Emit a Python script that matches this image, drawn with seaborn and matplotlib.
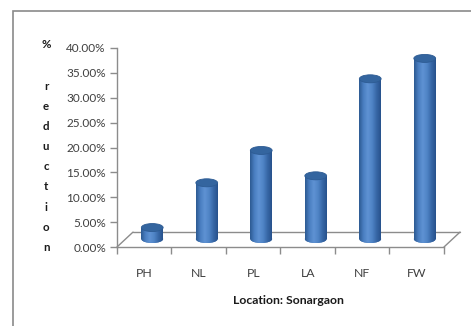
import numpy as np
import pandas as pd
import matplotlib
matplotlib.use("Agg")
import matplotlib.pyplot as plt
import matplotlib.transforms as mtransforms
from matplotlib.patches import Ellipse, Rectangle
from matplotlib.colors import LinearSegmentedColormap
import seaborn as sns

# Percent reduction by treatment, Sonargaon
locations = ["PH", "NL", "PL", "LA", "NF", "FW"]
reduction = [0.023, 0.113, 0.178, 0.127, 0.322, 0.363]
y_ticks = [0.0, 0.05, 0.10, 0.15, 0.20, 0.25, 0.30, 0.35, 0.40]
x_title = "Location: Sonargaon"
y_title = "%\n\nreduction"

sns.set_theme(style="white")
plt.rcParams["font.family"] = ["Lato", "DejaVu Sans"]

W, H, DPI = 471, 326, 100
fig = plt.figure(figsize=(W / DPI, H / DPI), dpi=DPI)

def px_rect(left, top, right, bottom):
    return [left / W, 1 - bottom / H, (right - left) / W, (bottom - top) / H]

ax = fig.add_axes(px_rect(117, 48, 460, 247))
ax.set_facecolor("none")

df = pd.DataFrame({"location": locations, "reduction": reduction})
sns.barplot(data=df, x="location", y="reduction", color="#4a7ebf",
            width=0.40, ax=ax, zorder=3, linewidth=0)

depth_x = 0.294   # floor depth in category units
depth_y = 0.030   # floor depth in value units
ax.set_xlim(-0.5, 5.5 + depth_x)
ax.set_ylim(0, 0.40)

grey = "#8c8c8c"
for s in ["top", "right"]:
    ax.spines[s].set_visible(False)
ax.spines["left"].set_bounds(0, 0.40)
ax.spines["bottom"].set_bounds(-0.5, 5.5)
for s in ["left", "bottom"]:
    ax.spines[s].set_color(grey)
    ax.spines[s].set_linewidth(1.0)

# floor outline
fl = dict(color=grey, lw=1.0, zorder=1, clip_on=False)
ax.plot([-0.5, -0.5 + depth_x], [0, depth_y], **fl)
ax.plot([-0.5 + depth_x, 5.5 + depth_x], [depth_y, depth_y], **fl)
ax.plot([5.5, 5.5 + depth_x], [0, depth_y], **fl)

ax.set_yticks(y_ticks)
ax.set_yticklabels([f"{t * 100:.2f}%" for t in y_ticks])
ax.set_xticks(range(len(locations)))
ax.set_xticklabels(locations)
ax.set_xticks(np.arange(-0.5, 6.0, 1.0), minor=True)
ax.tick_params(axis="y", which="major", left=True, length=5, width=1,
               color=grey, direction="out", pad=3, labelsize=8.5,
               labelcolor="#404040")
ax.tick_params(axis="x", which="major", bottom=True, length=0, pad=15,
               labelsize=8.8, labelcolor="#404040")
ax.tick_params(axis="x", which="minor", bottom=True, length=5, width=1,
               color=grey, direction="out")
ax.set_xlabel(x_title, fontsize=8.8, fontweight="bold", color="#1a1a1a",
              labelpad=12)
ax.set_ylabel("")

# cylinders: bars sit halfway back on the floor
shift = mtransforms.ScaledTranslation(8 / DPI, 8 / DPI, fig.dpi_scale_trans)
trans = ax.transData + shift
cyl = LinearSegmentedColormap.from_list(
    "cyl", ["#2d5a92", "#4a7fc2", "#5f92d3", "#4f84c6", "#3868a7", "#27528c"])
grad = np.linspace(0, 1, 64).reshape(1, -1)
cap_h = 8 / (199 / 0.40)  # ellipse height in value units

for patch in ax.patches:
    if not isinstance(patch, Rectangle):
        continue
    x0, w, h = patch.get_x(), patch.get_width(), patch.get_height()
    xc = x0 + w / 2
    patch.set_transform(trans)
    patch.set_facecolor("#4a7ebf")

    base = Ellipse((xc, 0), w, cap_h, transform=trans, facecolor="#3a6cad",
                   lw=0, zorder=2.9)
    ax.add_patch(base)
    for clip in (base, patch):
        im = ax.imshow(grad, cmap=cyl, aspect="auto",
                       extent=(x0, x0 + w, -cap_h, h), transform=trans,
                       zorder=3.1, interpolation="bilinear")
        im.set_clip_path(clip)
    top = Ellipse((xc, h), w, cap_h, transform=trans, facecolor="#34659f",
                  edgecolor="#2d5b93", lw=0.6, zorder=4)
    ax.add_patch(top)

ax.set_xlim(-0.5, 5.5 + depth_x)
ax.set_ylim(0, 0.40)

# stacked vertical axis title
lines = y_title.split("\n")
for i, ch in enumerate(lines):
    if ch and len(ch) > 1:
        for j, c in enumerate(ch):
            fig.text(46 / W, 1 - (86 + 20.2 * j) / H, c, ha="center",
                     va="center", fontsize=8.3, fontweight="bold",
                     color="#1a1a1a")
    elif ch:
        fig.text(46 / W, 1 - 45 / H, ch, ha="center", va="center",
                 fontsize=8.3, fontweight="bold", color="#1a1a1a")

# chart border
fig.patches.append(Rectangle((13 / W, -0.1), 1.2, 1 - 11 / H + 0.1,
                             transform=fig.transFigure, fill=False,
                             edgecolor="#8a8a8a", lw=1.2, zorder=0))

fig.savefig("out.png", dpi=DPI)
